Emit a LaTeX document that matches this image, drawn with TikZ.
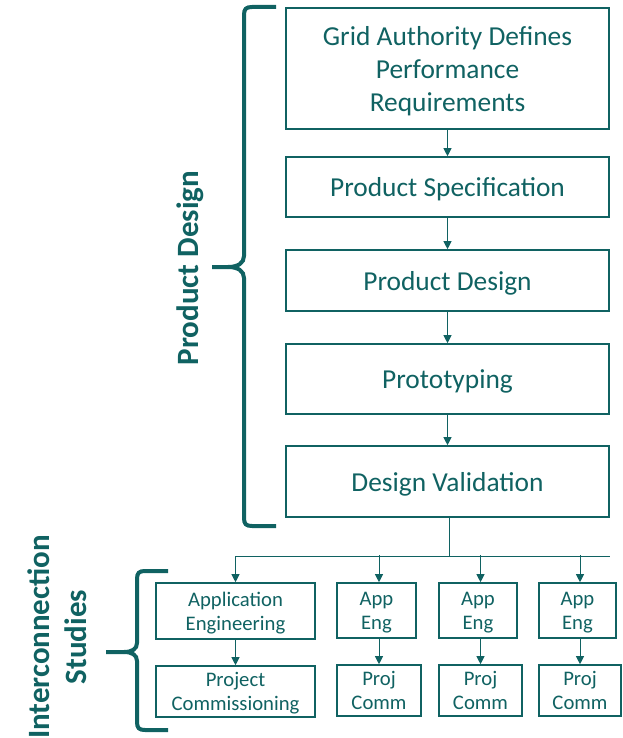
\documentclass[tikz,border=0pt]{standalone}
\usepackage{fontspec}
\setmainfont{Carlito}
\usetikzlibrary{arrows.meta}
\definecolor{teal1}{RGB}{16,98,98}
\tikzset{
  box/.style={draw=teal1, line width=1.6pt, text=teal1, align=center, inner sep=0pt,
    text depth=0pt, font=\fontsize{27.4}{33}\selectfont},
  sbox/.style={draw=teal1, line width=1.6pt, text=teal1, align=center, inner sep=0pt,
    text depth=0pt, font=\fontsize{20.7}{24}\selectfont},
  arr/.style={draw=teal1, line width=0.9pt, -{Triangle[length=8pt,width=8pt]}},
  conn/.style={draw=teal1, line width=0.9pt},
  brace/.style={draw=teal1, line width=4pt},
  lab/.style={text=teal1, font=\bfseries\fontsize{31}{37}\selectfont, rotate=90, align=center}
}
\begin{document}
\begin{tikzpicture}[x=1pt,y=-1pt]
\useasboundingbox (0,0) rectangle (623,738);
% main chain
\node[box, minimum width=323pt, minimum height=121pt] (b1) at (447.5,68.5) {Grid Authority Defines\\Performance\\Requirements};
\node[box, minimum width=323pt, minimum height=60pt] (b2) at (447.5,187) {Product Specification};
\node[box, minimum width=323pt, minimum height=61pt] (b3) at (447.5,280.5) {Product Design};
\node[box, minimum width=323pt, minimum height=70pt] (b4) at (447.5,379) {Prototyping};
\node[box, minimum width=323pt, minimum height=71pt] (b5) at (447.5,481.5) {Design Validation};
\draw[arr] (b1) -- (b2);
\draw[arr] (b2) -- (b3);
\draw[arr] (b3) -- (b4);
\draw[arr] (b4) -- (b5);
% bottom row
\node[sbox, minimum width=159pt, minimum height=56pt] (a1) at (235.5,611) {Application\\Engineering};
\node[sbox, minimum width=159pt, minimum height=51pt] (p1) at (235.5,691.5) {Project\\Commissioning};
\node[sbox, minimum width=79pt, minimum height=55pt] (a2) at (376.5,610.5) {App\\Eng};
\node[sbox, minimum width=84pt, minimum height=51pt] (p2) at (379,690.5) {Proj\\Comm};
\node[sbox, minimum width=78pt, minimum height=55pt] (a3) at (478,610.5) {App\\Eng};
\node[sbox, minimum width=83pt, minimum height=51pt] (p3) at (480.5,690.5) {Proj\\Comm};
\node[sbox, minimum width=77pt, minimum height=55pt] (a4) at (577.5,610.5) {App\\Eng};
\node[sbox, minimum width=82pt, minimum height=51pt] (p4) at (580,690.5) {Proj\\Comm};
\coordinate (junc) at (449,556);
\coordinate (lend) at (235.5,556);
\coordinate (rend) at (610,556);
\draw[conn] (b5.south -| junc) -- (junc);
\draw[conn] (lend) -- (rend);
\draw[arr] (lend) -- (a1.north);
\draw[arr] (a2.north -| p2.north) ++(0,-27) -- (a2.north -| p2.north);
\draw[arr] (a3.north -| p3.north) ++(0,-27) -- (a3.north -| p3.north);
\draw[arr] (a4.north -| p4.north) ++(0,-27) -- (a4.north -| p4.north);
\draw[arr] (a1) -- (p1);
\draw[arr] (a2.south -| p2.north) -- (p2.north);
\draw[arr] (a3.south -| p3.north) -- (p3.north);
\draw[arr] (a4.south -| p4.north) -- (p4.north);
% braces
\draw[brace] (276,7) -- (252,7) .. controls (246,7) and (244,9) .. (244,15) -- (244,256)
  .. controls (244,263) and (238,267) .. (228,267) -- (212,267);
\draw[brace] (228,267) .. controls (238,267) and (244,271) .. (244,278) -- (244,518)
  .. controls (244,524) and (246,526) .. (252,526) -- (276,526);
\draw[brace] (168,571) -- (145,571) .. controls (139,571) and (137,573) .. (137,579) -- (137,643)
  .. controls (137,649) and (132,652) .. (124,652) -- (106,652);
\draw[brace] (124,652) .. controls (132,652) and (137,655) .. (137,661) -- (137,722)
  .. controls (137,728) and (139,730) .. (145,730) -- (168,730);
% labels
\node[lab] (lpd) at (190,268) {Product Design};
\node[lab] (lis) at (57,637) {Interconnection\\Studies};
\end{tikzpicture}
\end{document}
